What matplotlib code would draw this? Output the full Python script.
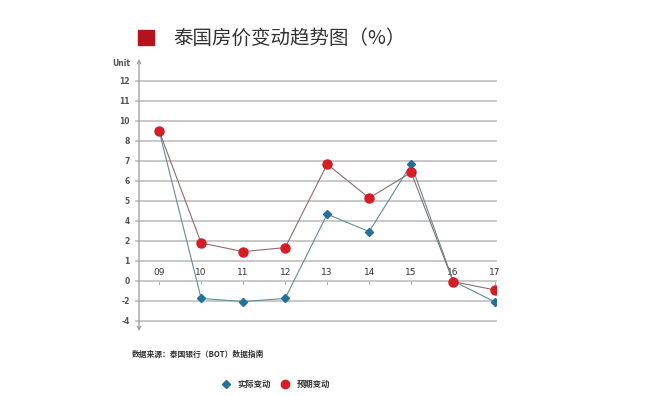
import matplotlib
matplotlib.use("Agg")
import matplotlib.pyplot as plt
from matplotlib.patches import Rectangle

plt.rcParams['font.family'] = ['Noto Sans CJK SC', 'DejaVu Sans']

# Data (values in gridline-position units, as drawn in the reference)
years = ['09', '10', '11', '12', '13', '14', '15', '16', '17']
actual = [7.5, -0.87, -1.03, -0.87, 3.34, 2.47, 5.83, 0.0, -1.05]
expected = [7.5, 1.9, 1.47, 1.67, 5.84, 4.15, 5.43, -0.03, -0.45]
ytick_labels = ['-4', '-2', '0', '1', '2', '4', '5', '6', '7', '8', '10', '11', '12']
ytick_pos = list(range(-2, 11))

title = '泰国房价变动趋势图（%）'
source = '数据来源：泰国银行（BOT）数据指南'
legend_labels = ['实际变动', '预期变动']

W, H = 650, 396
fig = plt.figure(figsize=(6.5, 3.96), dpi=100)
ax_left, ax_right, ax_top, ax_bot = 139, 496, 60, 330
ax = fig.add_axes([ax_left / W, 1 - ax_bot / H, (ax_right - ax_left) / W, (ax_bot - ax_top) / H])
ax.set_xlim(-0.48, 8.02)
ax.set_ylim(-2.45, 11.05)
ax.axis('off')

x = list(range(len(years)))
xl = -0.48
# gridlines
for p in ytick_pos:
    ax.plot([xl - 0.07, 8.02], [p, p], color='#c4c4c4', lw=1.3, clip_on=False, zorder=1)
# y axis with arrows
ax.annotate('', xy=(xl, 11.1), xytext=(xl, -2.5),
            arrowprops=dict(arrowstyle='<->', color='#9a9a9a', lw=0.9, mutation_scale=6,
                            shrinkA=0, shrinkB=0), annotation_clip=False)
# y tick labels
for p, lab in zip(ytick_pos, ytick_labels):
    ax.text(xl - 0.22, p, lab, ha='right', va='center', fontsize=5.5, color='#555555',
            fontweight='bold', family='DejaVu Sans')
ax.text(xl - 0.22, 10.9, 'Unit', ha='right', va='center', fontsize=5.5, color='#555555',
        fontweight='bold', family='DejaVu Sans')
# x labels and tick marks
for xi, lab in zip(x, years):
    ax.text(xi, 0.18, lab, ha='center', va='bottom', fontsize=6.5, color='#333333',
            family='DejaVu Sans')
    ax.plot([xi, xi], [-0.05, -0.15], color='#aaaaaa', lw=0.7, zorder=1)

# series
ax.plot(x, actual, color='#5f8d9a', lw=0.8, zorder=3)
ax.plot(x, expected, color='#8f6c6c', lw=0.8, zorder=3)
ax.plot(x, actual, ls='none', marker='D', ms=4.2, color='#23709a', zorder=4)
ax.plot(x, expected, ls='none', marker='o', ms=6.5, color='#d61d26', zorder=5)

# title
fig.patches.append(Rectangle((138 / W, 1 - 45 / H), 16 / W, 15 / H, transform=fig.transFigure,
                             color='#b5121b', figure=fig))
fig.text(173 / W, 1 - 38 / H, title, fontsize=14, color='#333333', va='center', ha='left')

# source
fig.text(132 / W, 1 - 354 / H, source, fontsize=5.6, color='#333333', va='center', ha='left',
         fontweight='bold')

# legend
fig.lines.append(plt.Line2D([226 / W], [1 - 384 / H], transform=fig.transFigure, marker='D',
                            ms=4.5, color='#23709a', ls='none'))
fig.text(237 / W, 1 - 384 / H, legend_labels[0], fontsize=6, color='#333333', va='center',
         ha='left', fontweight='bold')
fig.lines.append(plt.Line2D([285 / W], [1 - 384 / H], transform=fig.transFigure, marker='o',
                            ms=6, color='#d61d26', ls='none'))
fig.text(297 / W, 1 - 384 / H, legend_labels[1], fontsize=6, color='#333333', va='center',
         ha='left', fontweight='bold')

fig.savefig('out.png', dpi=100, facecolor='white')
